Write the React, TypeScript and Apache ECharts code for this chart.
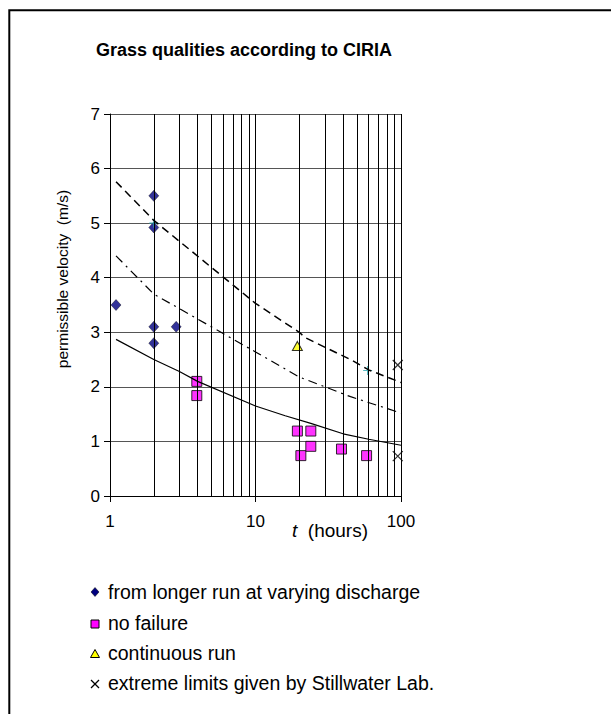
import React, { useEffect, useRef } from "react";
import * as echarts from "echarts";

const title = "Grass qualities according to CIRIA";
const yTicks = [0, 1, 2, 3, 4, 5, 6, 7];
const xMinorGrid = [2, 3, 4, 5, 6, 7, 8, 9, 20, 30, 40, 50, 60, 70, 80, 90];

const longerRunT = [1.1, 2, 2, 2, 2, 2.85];
const longerRunV = [3.5, 5.5, 4.92, 3.1, 2.8, 3.1];
const noFailureT = [3.95, 3.95, 19.4, 24, 20.5, 24, 39, 58];
const noFailureV = [2.1, 1.84, 1.19, 1.19, 0.74, 0.91, 0.86, 0.74];
const continuousT = [19.4];
const continuousV = [2.75];
const stillwaterT = [95, 95];
const stillwaterV = [2.4, 0.73];
const extraT = [2, 59];
const extraV = [5.0, 2.3];

const lowerT = [1.1, 2, 3, 4, 10, 16, 24, 40, 60, 100];
const lowerV = [2.87, 2.5, 2.28, 2.1, 1.65, 1.47, 1.33, 1.14, 1.04, 0.93];
const upperT = [1.1, 2, 10, 20, 22, 45, 60, 100];
const upperV = [5.76, 5.05, 3.53, 3.0, 2.9, 2.5, 2.31, 2.08];
const middleT = [1.1, 2, 10, 20, 45, 100];
const middleV = [4.4, 3.7, 2.64, 2.18, 1.82, 1.52];

const legendNames = [
  "from longer run at varying discharge",
  "no failure",
  "continuous run",
  "extreme limits given by Stillwater Lab.",
];

const zip = (a: number[], b: number[]) => a.map((v, i) => [v, b[i]]);
const FONT = "Liberation Sans, Arial, sans-serif";
const CROSS = "path://M0,0L10,10M10,0L0,10";
const PLUS = "path://M5,0L5,10M0,5L10,5";

export default function App() {
  const ref = useRef<HTMLDivElement>(null);
  useEffect(() => {
    if (!ref.current) return;
    const chart = echarts.init(ref.current, null, { renderer: "svg" });
    const legY = [592, 623, 653, 683];
    const mx = 95;
    const tx = 108;
    const option: any = {
      animation: false,
      backgroundColor: "#fff",
      grid: { left: 110, top: 114, width: 291, height: 382 },
      xAxis: {
        type: "log",
        logBase: 10,
        min: 1,
        max: 100,
        axisLine: { show: true, lineStyle: { color: "#000", width: 1 } },
        axisTick: { show: true, length: 6, lineStyle: { color: "#000" } },
        splitLine: { show: true, lineStyle: { color: "#000", width: 1 } },
        axisLabel: { color: "#000", fontSize: 17, fontFamily: FONT, margin: 17 },
      },
      yAxis: {
        type: "value",
        min: 0,
        max: 7,
        interval: 1,
        axisLine: { show: true, lineStyle: { color: "#000", width: 1 } },
        axisTick: { show: true, length: 6, lineStyle: { color: "#000" } },
        splitLine: { show: true, lineStyle: { color: "#555", width: 1 } },
        axisLabel: {
          color: "#000",
          fontSize: 17,
          fontFamily: FONT,
          margin: 10,
          formatter: (v: number) => (yTicks.includes(v) ? String(v) : ""),
        },
      },
      series: [
        {
          type: "line",
          name: "grid",
          data: [],
          silent: true,
          markLine: {
            silent: true,
            symbol: ["none", "none"],
            label: { show: false },
            lineStyle: { color: "#000", width: 1, type: "solid" },
            data: xMinorGrid.map((x) => ({ xAxis: x })),
          },
        },
        {
          type: "line",
          name: "lower",
          data: zip(lowerT, lowerV),
          symbol: "none",
          lineStyle: { color: "#000", width: 1.2 },
          silent: true,
        },
        {
          type: "line",
          name: "upper",
          data: zip(upperT, upperV),
          symbol: "none",
          lineStyle: { color: "#000", width: 1.5, type: [8, 5] },
          silent: true,
        },
        {
          type: "line",
          name: "middle",
          data: zip(middleT, middleV),
          symbol: "none",
          lineStyle: { color: "#000", width: 1.2, type: [9, 5, 2, 5] },
          silent: true,
        },
        {
          type: "scatter",
          name: legendNames[0],
          data: zip(longerRunT, longerRunV),
          symbol: "diamond",
          symbolSize: [10, 11],
          itemStyle: { color: "#000080", borderColor: "#000", borderWidth: 0.5 },
        },
        {
          type: "scatter",
          name: legendNames[1],
          data: zip(noFailureT, noFailureV),
          symbol: "rect",
          symbolSize: 10,
          itemStyle: { color: "#FF00FF", borderColor: "#000", borderWidth: 1 },
        },
        {
          type: "scatter",
          name: legendNames[2],
          data: zip(continuousT, continuousV),
          symbol: "triangle",
          symbolSize: [10, 9],
          itemStyle: { color: "#FFFF00", borderColor: "#000", borderWidth: 1 },
        },
        {
          type: "scatter",
          name: legendNames[3],
          data: zip(stillwaterT, stillwaterV),
          symbol: CROSS,
          symbolSize: 10,
          itemStyle: { color: "none", borderColor: "#000", borderWidth: 1.3 },
        },
        {
          type: "scatter",
          name: "extra",
          data: zip(extraT, extraV),
          symbol: PLUS,
          symbolSize: 9,
          itemStyle: { color: "none", borderColor: "#2AA8B0", borderWidth: 1.2 },
        },
      ],
      graphic: [
        {
          type: "rect",
          shape: { x: 9.3, y: 10.3, width: 800, height: 800 },
          style: { fill: "none", stroke: "#000", lineWidth: 2 },
          silent: true,
        },
        {
          type: "text",
          x: 244,
          y: 50,
          style: {
            text: title,
            font: `bold 18px ${FONT}`,
            fill: "#000",
            align: "center",
            verticalAlign: "middle",
          },
        },
        {
          type: "text",
          x: 62,
          y: 279,
          rotation: Math.PI / 2,
          style: {
            text: "permissible velocity  (m/s)",
            font: `15.5px ${FONT}`,
            fill: "#000",
            align: "center",
            verticalAlign: "middle",
          },
        },
        {
          type: "text",
          x: 292,
          y: 530,
          style: {
            text: "{i|t}  (hours)",
            font: `19px ${FONT}`,
            fill: "#000",
            verticalAlign: "middle",
            rich: {
              i: { font: `italic 19px ${FONT}`, fill: "#000" },
            },
          },
        },
        // legend markers
        {
          type: "polygon",
          shape: { points: [[mx, legY[0] - 4.5], [mx + 4, legY[0]], [mx, legY[0] + 4.5], [mx - 4, legY[0]]] },
          style: { fill: "#000080", stroke: "#000", lineWidth: 0.5 },
        },
        {
          type: "rect",
          shape: { x: mx - 4, y: legY[1] - 3, width: 8, height: 8 },
          style: { fill: "#FF00FF", stroke: "#000", lineWidth: 1 },
        },
        {
          type: "polygon",
          shape: { points: [[mx, legY[2] - 3.5], [mx + 4.5, legY[2] + 4.5], [mx - 4.5, legY[2] + 4.5]] },
          style: { fill: "#FFFF00", stroke: "#000", lineWidth: 1 },
        },
        {
          type: "line",
          shape: { x1: mx - 4, y1: legY[3] - 3, x2: mx + 4, y2: legY[3] + 5 },
          style: { stroke: "#000", lineWidth: 1.2 },
        },
        {
          type: "line",
          shape: { x1: mx + 4, y1: legY[3] - 3, x2: mx - 4, y2: legY[3] + 5 },
          style: { stroke: "#000", lineWidth: 1.2 },
        },
        ...legendNames.map((n, i) => ({
          type: "text",
          x: tx,
          y: legY[i],
          style: {
            text: n,
            font: `19.5px ${FONT}`,
            fill: "#000",
            verticalAlign: "middle",
          },
        })),
      ],
    };
    chart.setOption(option);
    return () => chart.dispose();
  }, []);
  return (
    <div
      ref={ref}
      style={{ position: "absolute", left: 0, top: 0, width: 611, height: 714 }}
    />
  );
}
